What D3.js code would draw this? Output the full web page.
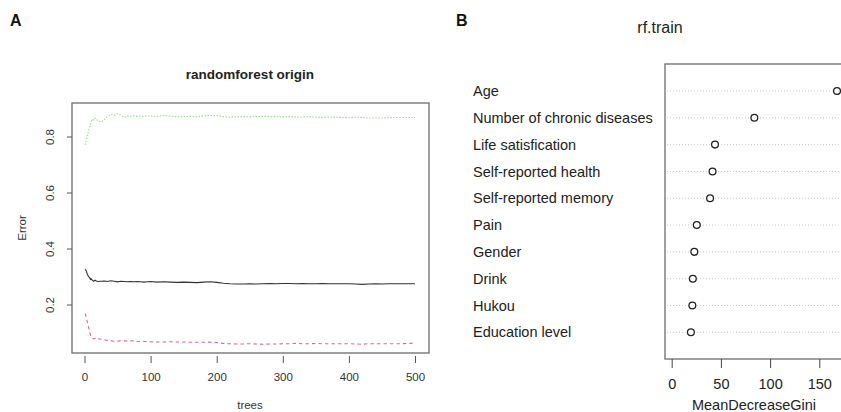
<!DOCTYPE html>
<html>
<head>
<meta charset="utf-8">
<script src="https://cdn.jsdelivr.net/npm/d3@7"></script>
<style>
  body { margin: 0; background: #fff; }
  svg { display: block; font-family: "Liberation Sans", Arial, sans-serif; }
</style>
</head>
<body>
<svg id="chart" width="841" height="412"></svg>
<script>
// panel A: random forest error rates vs number of trees
var trees = [1,2,3,4,5,6,7,8,9,10,12,14,16,18,20,25,30,35,40,45,50,55,60,65,70,75,80,85,90,95,100,
  110,120,130,140,150,160,170,180,190,200,210,220,230,240,250,260,270,280,290,300,
  310,320,330,340,350,360,370,380,390,400,410,420,430,440,450,460,470,480,490,500];

var oobErr = [0.326,0.322,0.318,0.310,0.305,0.300,0.298,0.295,0.290,0.292,0.286,0.283,0.287,0.284,0.282,0.283,0.284,0.282,0.285,0.283,0.281,
  0.283,0.282,0.281,0.282,0.281,0.282,0.281,0.280,0.281,0.282,
  0.280,0.281,0.280,0.279,0.280,0.279,0.278,0.280,0.281,0.279,0.276,0.274,0.273,0.273,0.274,0.273,0.274,0.275,0.274,0.275,
  0.275,0.274,0.275,0.274,0.274,0.275,0.274,0.274,0.274,0.274,0.273,0.272,0.273,0.274,0.273,0.274,0.274,0.274,0.274,0.274];

var class0Err = [0.168,0.160,0.150,0.140,0.130,0.120,0.110,0.100,0.092,0.085,0.080,0.077,0.079,0.082,0.078,0.076,0.074,0.071,0.070,0.069,0.069,
  0.071,0.070,0.069,0.070,0.070,0.068,0.069,0.068,0.068,0.067,
  0.066,0.066,0.067,0.066,0.066,0.065,0.065,0.065,0.066,0.064,0.061,0.060,0.059,0.059,0.060,0.059,0.058,0.059,0.059,0.060,
  0.060,0.061,0.060,0.060,0.061,0.060,0.060,0.060,0.060,0.060,0.059,0.058,0.060,0.060,0.060,0.060,0.060,0.060,0.061,0.062];

var class1Err = [0.770,0.780,0.790,0.800,0.810,0.820,0.830,0.835,0.845,0.850,0.862,0.858,0.865,0.862,0.856,0.852,0.860,0.872,0.879,0.875,0.882,
  0.877,0.868,0.873,0.872,0.874,0.872,0.873,0.871,0.874,0.873,
  0.872,0.875,0.873,0.870,0.871,0.872,0.870,0.874,0.875,0.874,0.871,0.869,0.870,0.871,0.870,0.871,0.872,0.871,0.871,0.870,
  0.871,0.869,0.870,0.871,0.869,0.868,0.870,0.869,0.868,0.867,0.869,0.868,0.866,0.867,0.866,0.867,0.868,0.868,0.868,0.868];

var errTicks = [0.2, 0.4, 0.6, 0.8];
var treeTicks = [0, 100, 200, 300, 400, 500];

// panel B: variable importance
var variables = ["Age", "Number of chronic diseases", "Life satisfication", "Self-reported health",
  "Self-reported memory", "Pain", "Gender", "Drink", "Hukou", "Education level"];
var giniValues = [168, 84, 44, 41.5, 39, 25.5, 23, 21.5, 21, 19.5];
var giniTicks = [0, 50, 100, 150];

var svg = d3.select("#chart");

// ---------- panel A ----------
var boxA = { left: 72, right: 429, top: 103, bottom: 353 };

var xA = d3.scaleLinear().domain([0, 500]).range([84.5, 415]);
var yA = d3.scaleLinear().domain([0.2, 0.8]).range([304.5, 136.5]);

svg.append("text").attr("x", 10).attr("y", 26)
  .style("font-weight", "bold").style("font-size", "16px").attr("fill", "#111").text("A");

svg.append("text").attr("x", 250).attr("y", 79).attr("text-anchor", "middle")
  .style("font-weight", "bold").style("font-size", "13.5px").attr("fill", "#222")
  .text("randomforest origin");

var line = d3.line()
  .x(function (d, i) { return xA(trees[i]); })
  .y(function (d) { return yA(d); });

svg.append("path").datum(class1Err)
  .attr("d", line).attr("fill", "none")
  .attr("stroke", "#9fd494").attr("stroke-width", 1.1)
  .attr("stroke-dasharray", "1.5,1.5");

svg.append("path").datum(class0Err)
  .attr("d", line).attr("fill", "none")
  .attr("stroke", "#df6b80").attr("stroke-width", 1.1)
  .attr("stroke-dasharray", "3.5,3");

svg.append("path").datum(oobErr)
  .attr("d", line).attr("fill", "none")
  .attr("stroke", "#333").attr("stroke-width", 1.1);

svg.append("rect")
  .attr("x", boxA.left).attr("y", boxA.top)
  .attr("width", boxA.right - boxA.left).attr("height", boxA.bottom - boxA.top)
  .attr("fill", "none").attr("stroke", "#777").attr("stroke-width", 1.4);

var xAxisA = svg.append("g")
  .attr("transform", "translate(0,356)")
  .call(d3.axisBottom(xA).tickValues(treeTicks).tickSize(7).tickPadding(10));
xAxisA.select(".domain").remove();
xAxisA.selectAll("line").attr("stroke", "#555");
xAxisA.selectAll("text").style("font-size", "11.5px").attr("fill", "#333")
  .style("font-family", "'Liberation Sans', Arial, sans-serif");

var yAxisA = svg.append("g")
  .attr("transform", "translate(" + boxA.left + ",0)")
  .call(d3.axisLeft(yA).tickValues(errTicks).tickSize(5).tickFormat(d3.format(".1f")));
yAxisA.select(".domain").remove();
yAxisA.selectAll("line").attr("stroke", "#555");
yAxisA.selectAll("text")
  .attr("transform", "rotate(-90)")
  .attr("x", 0).attr("y", -22).attr("dy", "0.35em")
  .attr("text-anchor", "middle")
  .style("font-size", "11.5px").attr("fill", "#333")
  .style("font-family", "'Liberation Sans', Arial, sans-serif");

svg.append("text")
  .attr("transform", "translate(22,228) rotate(-90)")
  .attr("text-anchor", "middle").attr("dy", "0.35em")
  .style("font-size", "11.5px").attr("fill", "#333").text("Error");

svg.append("text").attr("x", 250).attr("y", 409).attr("text-anchor", "middle")
  .style("font-size", "11.5px").attr("fill", "#333").text("trees");

// ---------- panel B ----------
var boxB = { left: 665, right: 860, top: 64, bottom: 359 };

var xB = d3.scaleLinear().domain([0, 150]).range([671.7, 819.3]);
var yB = d3.scalePoint().domain(variables).range([91, 332.3]);

svg.append("text").attr("x", 456).attr("y", 26)
  .style("font-weight", "bold").style("font-size", "16px").attr("fill", "#111").text("B");

svg.append("text").attr("x", 660).attr("y", 33).attr("text-anchor", "middle")
  .style("font-size", "16px").attr("fill", "#222").text("rf.train");

svg.selectAll(".grid").data(variables).enter().append("line")
  .attr("class", "grid")
  .attr("x1", boxB.left + 2).attr("x2", boxB.right)
  .attr("y1", function (d) { return yB(d); })
  .attr("y2", function (d) { return yB(d); })
  .attr("stroke", "#c8c8c8").attr("stroke-width", 1)
  .attr("stroke-dasharray", "1,2");

svg.selectAll(".varlab").data(variables).enter().append("text")
  .attr("class", "varlab")
  .attr("x", 473).attr("y", function (d) { return yB(d); })
  .attr("dy", "0.35em")
  .style("font-size", "14.5px").attr("fill", "#222")
  .text(function (d) { return d; });

svg.selectAll(".pt").data(giniValues).enter().append("circle")
  .attr("class", "pt")
  .attr("cx", function (d) { return xB(d); })
  .attr("cy", function (d, i) { return yB(variables[i]); })
  .attr("r", 3.4)
  .attr("fill", "#fff").attr("stroke", "#222").attr("stroke-width", 1.3);

svg.append("rect")
  .attr("x", boxB.left).attr("y", boxB.top)
  .attr("width", boxB.right - boxB.left).attr("height", boxB.bottom - boxB.top)
  .attr("fill", "none").attr("stroke", "#777").attr("stroke-width", 1.4);

var xAxisB = svg.append("g")
  .attr("transform", "translate(0," + boxB.bottom + ")")
  .call(d3.axisBottom(xB).tickValues(giniTicks).tickSize(9).tickPadding(11));
xAxisB.select(".domain").remove();
xAxisB.selectAll("line").attr("stroke", "#444");
xAxisB.selectAll("text").style("font-size", "14.5px").attr("fill", "#222")
  .style("font-family", "'Liberation Sans', Arial, sans-serif");

svg.append("text").attr("x", 754).attr("y", 410).attr("text-anchor", "middle")
  .style("font-size", "14.5px").attr("fill", "#222").text("MeanDecreaseGini");
</script>
</body>
</html>
